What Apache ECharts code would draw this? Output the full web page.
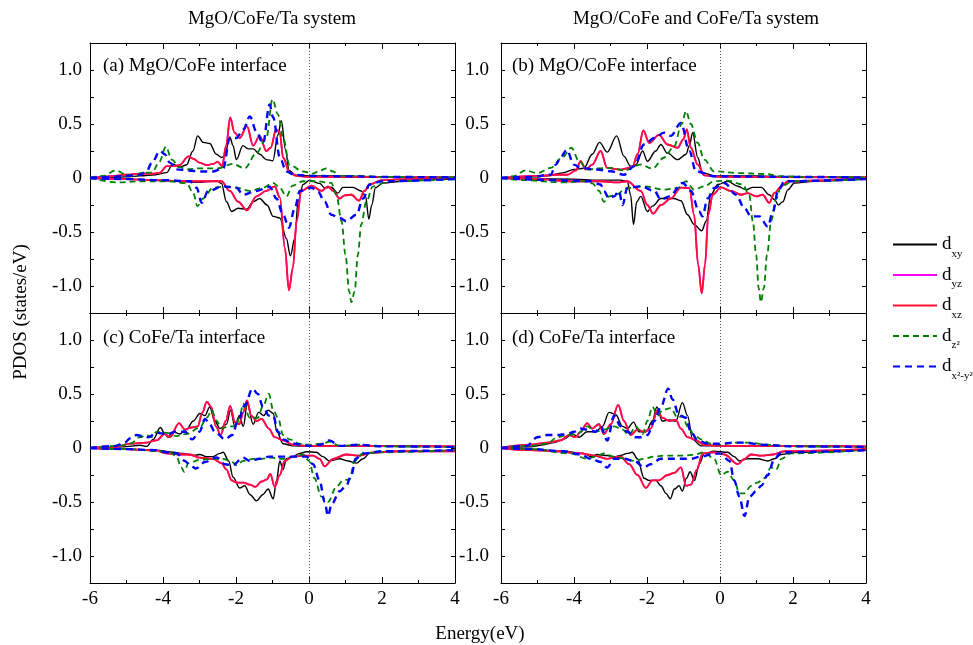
<!DOCTYPE html>
<html>
<head>
<meta charset="utf-8">
<script src="https://cdn.jsdelivr.net/npm/echarts@6/dist/echarts.min.js"></script>
<style>
html,body{margin:0;padding:0;background:#fff;}
#chart{width:973px;height:645px;}
</style>
</head>
<body>
<div id="chart"></div>
<script>
// ---------- DATA: [energy (eV), PDOS (states/eV)] ----------
// Panel (a): MgO/CoFe interface, MgO/CoFe/Ta system
const A_xy_up = [[-6,0],[-5.5,0.005],[-5,0.01],[-4.63,0.02],[-4.2,0.03],[-3.9,0.05],[-3.73,0.13],[-3.55,0.1],[-3.36,0.12],[-3.18,0.25],[-3.05,0.39],[-2.9,0.33],[-2.72,0.32],[-2.54,0.22],[-2.4,0.19],[-2.31,0.2],[-2.17,0.38],[-2.08,0.3],[-1.99,0.17],[-1.81,0.3],[-1.67,0.27],[-1.53,0.27],[-1.35,0.22],[-1.17,0.17],[-0.99,0.16],[-0.85,0.4],[-0.76,0.53],[-0.64,0.26],[-0.55,0.07],[-0.35,0.025],[0,0.02],[1,0.02],[2,0.01],[4,0.005]];
const A_xy_dn = [[-6,0],[-5,-0.01],[-4,-0.02],[-3.5,-0.03],[-3,-0.04],[-2.7,-0.03],[-2.53,-0.025],[-2.4,-0.05],[-2.26,-0.22],[-2.12,-0.31],[-1.94,-0.28],[-1.71,-0.29],[-1.53,-0.22],[-1.35,-0.19],[-1.15,-0.25],[-0.98,-0.355],[-0.8,-0.37],[-0.62,-0.56],[-0.51,-0.72],[-0.39,-0.56],[-0.3,-0.22],[-0.16,-0.06],[0.02,-0.02],[0.29,-0.05],[0.43,-0.09],[0.61,-0.085],[0.79,-0.14],[0.93,-0.087],[1.2,-0.087],[1.43,-0.12],[1.55,-0.17],[1.64,-0.38],[1.72,-0.25],[1.82,-0.09],[2.03,-0.046],[2.57,-0.03],[3.2,-0.015],[4,-0.01]];
const A_xz_up = [[-6,0],[-5.5,0.015],[-5,0.03],[-4.63,0.04],[-4.27,0.04],[-4.08,0.05],[-3.9,0.11],[-3.73,0.11],[-3.55,0.12],[-3.3,0.2],[-3.18,0.18],[-2.99,0.14],[-2.8,0.12],[-2.63,0.13],[-2.5,0.15],[-2.38,0.11],[-2.27,0.3],[-2.16,0.56],[-2.04,0.42],[-1.9,0.37],[-1.7,0.48],[-1.53,0.3],[-1.35,0.39],[-1.17,0.25],[-1.05,0.28],[-0.9,0.45],[-0.8,0.42],[-0.71,0.19],[-0.53,0.05],[-0.35,0.02],[0,0.01],[4,0.005]];
const A_xz_dn = [[-6,0],[-5,-0.01],[-4.3,-0.02],[-3.5,-0.03],[-2.99,-0.03],[-2.4,-0.03],[-2.17,-0.12],[-1.94,-0.22],[-1.7,-0.3],[-1.44,-0.17],[-1.17,-0.12],[-0.94,-0.077],[-0.8,-0.18],[-0.66,-0.65],[-0.55,-1.04],[-0.44,-0.83],[-0.34,-0.4],[-0.21,-0.12],[0.07,-0.07],[0.34,-0.12],[0.52,-0.077],[0.66,-0.12],[0.84,-0.19],[0.98,-0.16],[1.16,-0.155],[1.37,-0.21],[1.52,-0.12],[1.66,-0.06],[2,-0.02],[3,-0.005],[4,0]];
const A_z2_up = [[-6,0],[-5.64,0.02],[-5.3,0.07],[-5,0.03],[-4.75,0.01],[-4.59,0.05],[-4.3,0.05],[-4.1,0.15],[-3.92,0.29],[-3.76,0.17],[-3.55,0.1],[-3.35,0.08],[-2.99,0.09],[-2.5,0.09],[-2.09,0.13],[-1.76,0.09],[-1.44,0.23],[-1.17,0.37],[-1.0,0.73],[-0.85,0.59],[-0.71,0.37],[-0.53,0.12],[-0.16,0.06],[0.11,0.04],[0.3,0.07],[0.48,0.09],[0.66,0.06],[0.84,0.02],[1.3,0.02],[2,0.01],[4,0.005]];
const A_z2_dn = [[-6,0],[-5.27,-0.04],[-4.54,-0.03],[-3.81,-0.03],[-3.35,-0.05],[-3.17,-0.14],[-3.06,-0.26],[-2.9,-0.19],[-2.63,-0.09],[-2.3,-0.08],[-1.99,-0.09],[-1.62,-0.12],[-1.26,-0.09],[-0.98,-0.046],[-0.8,-0.09],[-0.62,-0.17],[-0.45,-0.07],[-0.16,-0.03],[0.2,-0.03],[0.61,-0.046],[0.75,-0.155],[0.89,-0.4],[1.0,-0.71],[1.1,-1.05],[1.16,-1.15],[1.25,-1.05],[1.34,-0.71],[1.43,-0.43],[1.57,-0.22],[1.75,-0.077],[2.2,-0.03],[4,-0.01]];
const A_x2_up = [[-6,0],[-5.5,0.01],[-5,0.02],[-4.63,0.03],[-4.45,0.06],[-4.31,0.14],[-4.08,0.25],[-3.95,0.22],[-3.81,0.14],[-3.63,0.08],[-3.3,0.07],[-2.99,0.06],[-2.63,0.06],[-2.35,0.09],[-2.17,0.37],[-1.99,0.37],[-1.8,0.45],[-1.62,0.57],[-1.44,0.43],[-1.26,0.32],[-1.08,0.68],[-0.98,0.56],[-0.8,0.19],[-0.62,0.06],[-0.4,0.03],[0,0.02],[1,0.015],[2,0.01],[4,0.005]];
const A_x2_dn = [[-6,0],[-5,-0.01],[-4,-0.02],[-3.26,-0.03],[-3.08,-0.09],[-2.94,-0.23],[-2.76,-0.12],[-2.35,-0.077],[-1.99,-0.09],[-1.81,-0.155],[-1.44,-0.12],[-1.08,-0.08],[-0.89,-0.19],[-0.71,-0.34],[-0.55,-0.46],[-0.39,-0.28],[-0.25,-0.12],[0.07,-0.09],[0.25,-0.13],[0.43,-0.22],[0.61,-0.34],[0.84,-0.37],[1.02,-0.4],[1.3,-0.34],[1.48,-0.19],[1.66,-0.06],[2,-0.03],[4,-0.01]];

// Panel (b): MgO/CoFe interface, MgO/CoFe and CoFe/Ta system
const B_xy_up = [[-6,0],[-5,0.01],[-4.73,0.02],[-4.28,0.05],[-4.0,0.08],[-3.73,0.09],[-3.5,0.22],[-3.3,0.33],[-3.09,0.24],[-2.83,0.39],[-2.63,0.2],[-2.45,0.11],[-2.31,0.12],[-2.12,0.25],[-1.99,0.155],[-1.76,0.25],[-1.62,0.31],[-1.44,0.23],[-1.16,0.17],[-0.93,0.22],[-0.84,0.3],[-0.75,0.42],[-0.61,0.19],[-0.48,0.05],[-0.16,0.02],[1,0.02],[2,0.01],[4,0.005]];
const B_xy_dn = [[-6,0],[-4,-0.01],[-3.36,-0.02],[-2.72,-0.02],[-2.54,-0.03],[-2.45,-0.155],[-2.37,-0.43],[-2.28,-0.22],[-2.17,-0.17],[-1.99,-0.31],[-1.85,-0.26],[-1.62,-0.19],[-1.26,-0.19],[-1.07,-0.21],[-0.89,-0.34],[-0.71,-0.43],[-0.5,-0.49],[-0.38,-0.4],[-0.25,-0.155],[-0.06,-0.06],[0.21,-0.03],[0.49,-0.077],[0.71,-0.108],[0.9,-0.087],[1.13,-0.087],[1.35,-0.155],[1.49,-0.2],[1.6,-0.25],[1.72,-0.22],[1.86,-0.108],[2.04,-0.046],[2.6,-0.03],[4,-0.01]];
const B_xz_up = [[-6,0],[-5,0.02],[-4.5,0.03],[-4.18,0.03],[-3.95,0.07],[-3.82,0.155],[-3.68,0.08],[-3.5,0.124],[-3.27,0.25],[-3.09,0.093],[-2.72,0.078],[-2.4,0.1],[-2.26,0.22],[-2.1,0.44],[-1.94,0.325],[-1.67,0.4],[-1.44,0.31],[-1.16,0.28],[-1.0,0.36],[-0.91,0.45],[-0.8,0.28],[-0.61,0.124],[-0.43,0.025],[0,0.01],[4,0.005]];
const B_xz_dn = [[-6,0],[-5,-0.01],[-4.18,-0.03],[-3.27,-0.03],[-2.81,-0.04],[-2.54,-0.03],[-2.17,-0.12],[-1.99,-0.25],[-1.83,-0.33],[-1.62,-0.25],[-1.35,-0.19],[-1.07,-0.09],[-0.84,-0.093],[-0.71,-0.34],[-0.6,-0.8],[-0.5,-1.07],[-0.41,-0.8],[-0.32,-0.34],[-0.2,-0.155],[0.03,-0.087],[0.3,-0.12],[0.58,-0.155],[0.76,-0.14],[0.99,-0.17],[1.17,-0.155],[1.35,-0.23],[1.49,-0.14],[1.68,-0.077],[1.86,-0.03],[4,0]];
const B_z2_up = [[-6,0],[-5.65,0.016],[-5.33,0.07],[-5.0,0.046],[-4.64,0.093],[-4.32,0.19],[-4.07,0.28],[-3.86,0.155],[-3.63,0.078],[-3.3,0.09],[-2.99,0.093],[-2.63,0.07],[-2.17,0.124],[-1.85,0.087],[-1.53,0.19],[-1.26,0.29],[-1.05,0.5],[-0.93,0.62],[-0.8,0.5],[-0.61,0.325],[-0.43,0.17],[-0.16,0.062],[0.49,0.046],[1.22,0.037],[1.68,0.016],[2.5,0.01],[4,0.005]];
const B_z2_dn = [[-6,0],[-5.4,-0.02],[-4.3,-0.04],[-3.73,-0.03],[-3.5,-0.05],[-3.31,-0.12],[-3.18,-0.22],[-3.04,-0.17],[-2.86,-0.155],[-2.54,-0.093],[-2.08,-0.077],[-1.53,-0.108],[-1.16,-0.093],[-0.93,-0.03],[-0.71,-0.108],[-0.43,-0.077],[-0.16,-0.03],[0.21,-0.025],[0.62,-0.06],[0.8,-0.155],[0.9,-0.4],[0.99,-0.71],[1.06,-1.02],[1.12,-1.15],[1.2,-1.02],[1.29,-0.71],[1.4,-0.4],[1.54,-0.19],[1.68,-0.077],[2,-0.03],[4,-0.01]];
const B_x2_up = [[-6,0],[-5.2,0.01],[-4.64,0.03],[-4.5,0.124],[-4.35,0.2],[-4.2,0.26],[-4.0,0.124],[-3.82,0.093],[-3.36,0.078],[-2.99,0.062],[-2.63,0.03],[-2.35,0.11],[-2.08,0.31],[-1.8,0.37],[-1.53,0.42],[-1.35,0.39],[-1.07,0.51],[-0.84,0.25],[-0.66,0.062],[-0.16,0.016],[2,0.01],[4,0.005]];
const B_x2_dn = [[-6,0],[-4.5,-0.02],[-3.55,-0.03],[-3.27,-0.06],[-3.18,-0.12],[-3.04,-0.19],[-2.9,-0.17],[-2.77,-0.12],[-2.67,-0.25],[-2.54,-0.093],[-2.17,-0.077],[-1.8,-0.12],[-1.62,-0.2],[-1.39,-0.17],[-1.02,-0.046],[-0.8,-0.12],[-0.57,-0.31],[-0.48,-0.355],[-0.34,-0.19],[-0.16,-0.093],[0.12,-0.046],[0.44,-0.155],[0.67,-0.28],[0.85,-0.355],[1.08,-0.355],[1.31,-0.45],[1.45,-0.31],[1.59,-0.12],[1.77,-0.03],[4,-0.01]];

// Panel (c): CoFe/Ta interface, MgO/CoFe/Ta system
const C_xy_up = [[-6,0],[-5.1,0.01],[-4.63,0.025],[-4.45,0.015],[-4.27,0.08],[-4.07,0.19],[-3.95,0.13],[-3.86,0.1],[-3.72,0.15],[-3.54,0.13],[-3.36,0.17],[-3.17,0.25],[-2.99,0.32],[-2.85,0.3],[-2.72,0.38],[-2.58,0.25],[-2.44,0.18],[-2.26,0.22],[-2.15,0.35],[-2.03,0.2],[-1.91,0.3],[-1.8,0.2],[-1.69,0.41],[-1.53,0.22],[-1.38,0.33],[-1.24,0.3],[-1.12,0.35],[-0.98,0.32],[-0.88,0.15],[-0.71,0.04],[-0.44,0.02],[0,0.015],[2,0.015],[4,0.01]];
const C_xy_dn = [[-6,0],[-5,-0.01],[-4.18,-0.02],[-3.72,-0.04],[-3.45,-0.05],[-3.17,-0.07],[-2.99,-0.06],[-2.81,-0.08],[-2.63,-0.08],[-2.44,-0.05],[-2.35,-0.04],[-2.2,-0.12],[-2.08,-0.27],[-1.9,-0.37],[-1.76,-0.35],[-1.62,-0.43],[-1.44,-0.49],[-1.26,-0.43],[-1.12,-0.38],[-0.98,-0.47],[-0.89,-0.3],[-0.8,-0.12],[-0.71,-0.2],[-0.62,-0.1],[-0.44,-0.08],[-0.26,-0.05],[-0.07,-0.035],[0.2,-0.04],[0.38,-0.08],[0.56,-0.12],[0.84,-0.1],[1.07,-0.12],[1.3,-0.14],[1.48,-0.1],[1.66,-0.05],[2.21,-0.03],[4,-0.02]];
const C_xz_up = [[-6,0],[-5.3,0.01],[-4.9,0.04],[-4.45,0.05],[-4.18,0.07],[-3.95,0.13],[-3.81,0.1],[-3.56,0.23],[-3.4,0.17],[-3.22,0.19],[-3.05,0.2],[-2.92,0.33],[-2.8,0.43],[-2.68,0.38],[-2.55,0.2],[-2.42,0.12],[-2.28,0.25],[-2.16,0.39],[-2.03,0.24],[-1.91,0.22],[-1.8,0.33],[-1.7,0.44],[-1.58,0.3],[-1.44,0.25],[-1.3,0.27],[-1.1,0.18],[-0.94,0.1],[-0.71,0.07],[-0.44,0.03],[0,0.02],[2,0.02],[4,0.015]];
const C_xz_dn = [[-6,0],[-5,-0.01],[-4.18,-0.025],[-3.9,-0.05],[-3.54,-0.06],[-3.26,-0.06],[-2.99,-0.09],[-2.63,-0.1],[-2.4,-0.14],[-2.26,-0.2],[-2.12,-0.3],[-1.99,-0.32],[-1.8,-0.32],[-1.62,-0.34],[-1.47,-0.36],[-1.3,-0.31],[-1.15,-0.29],[-1.06,-0.24],[-0.94,-0.36],[-0.8,-0.25],[-0.67,-0.12],[-0.44,-0.08],[-0.16,-0.07],[0.11,-0.07],[0.29,-0.1],[0.43,-0.17],[0.66,-0.1],[1.02,-0.06],[1.39,-0.07],[1.75,-0.04],[2.5,-0.03],[4,-0.03]];
const C_z2_up = [[-6,0],[-5.2,0.02],[-4.9,0.04],[-4.63,0.1],[-4.45,0.12],[-4.31,0.1],[-4.18,0.15],[-3.9,0.14],[-3.63,0.11],[-3.35,0.13],[-2.99,0.19],[-2.8,0.28],[-2.67,0.35],[-2.53,0.25],[-2.4,0.18],[-2.2,0.2],[-1.99,0.2],[-1.9,0.3],[-1.8,0.41],[-1.62,0.28],[-1.4,0.28],[-1.26,0.39],[-1.1,0.5],[-0.98,0.35],[-0.85,0.28],[-0.71,0.12],[-0.53,0.08],[-0.26,0.04],[0,0.03],[0.38,0.04],[0.56,0.06],[0.84,0.02],[1.39,0.03],[2,0.015],[4,0.01]];
const C_z2_dn = [[-6,0],[-5,-0.01],[-4.08,-0.03],[-3.81,-0.04],[-3.63,-0.08],[-3.5,-0.18],[-3.42,-0.22],[-3.3,-0.14],[-3.0,-0.11],[-2.67,-0.1],[-2.35,-0.1],[-2.1,-0.13],[-1.99,-0.16],[-1.8,-0.12],[-1.53,-0.1],[-1.3,-0.1],[-1.03,-0.09],[-0.71,-0.1],[-0.44,-0.08],[-0.16,-0.06],[0,-0.12],[0.15,-0.28],[0.34,-0.45],[0.52,-0.5],[0.75,-0.36],[0.93,-0.3],[1.11,-0.29],[1.25,-0.12],[1.48,-0.05],[1.93,-0.04],[4,-0.02]];
const C_x2_up = [[-6,0],[-5.3,0.02],[-5.05,0.05],[-4.9,0.09],[-4.72,0.12],[-4.54,0.11],[-4.4,0.1],[-4.18,0.14],[-3.9,0.13],[-3.63,0.15],[-3.4,0.15],[-3.2,0.08],[-3.0,0.15],[-2.85,0.27],[-2.72,0.22],[-2.58,0.15],[-2.3,0.08],[-2.1,0.12],[-1.95,0.25],[-1.75,0.4],[-1.55,0.55],[-1.4,0.5],[-1.26,0.38],[-1.1,0.3],[-0.98,0.3],[-0.85,0.15],[-0.71,0.08],[-0.44,0.04],[0,0.02],[0.3,0.03],[0.56,0.07],[0.84,0.02],[1.39,0.03],[2,0.015],[4,0.01]];
const C_x2_dn = [[-6,0],[-5,-0.01],[-4.2,-0.02],[-3.9,-0.04],[-3.63,-0.05],[-3.4,-0.12],[-3.26,-0.16],[-3.1,-0.19],[-2.85,-0.13],[-2.53,-0.087],[-2.3,-0.15],[-2.1,-0.16],[-1.8,-0.09],[-1.62,-0.12],[-1.35,-0.1],[-1.1,-0.08],[-0.8,-0.08],[-0.4,-0.08],[-0.07,-0.08],[0.11,-0.15],[0.29,-0.3],[0.43,-0.5],[0.52,-0.63],[0.62,-0.52],[0.84,-0.4],[1.02,-0.35],[1.16,-0.25],[1.28,-0.1],[1.48,-0.05],[2.02,-0.03],[4,-0.02]];

// Panel (d): CoFe/Ta interface, MgO/CoFe and CoFe/Ta system
const D_xy_up = [[-6,0],[-5.19,0.01],[-4.83,0.03],[-4.55,0.05],[-4.29,0.08],[-4.05,0.13],[-3.86,0.1],[-3.64,0.15],[-3.41,0.15],[-3.22,0.2],[-3.04,0.33],[-2.86,0.31],[-2.67,0.2],[-2.54,0.18],[-2.37,0.24],[-2.22,0.15],[-2.03,0.15],[-1.85,0.25],[-1.73,0.38],[-1.58,0.25],[-1.39,0.26],[-1.21,0.25],[-1.03,0.42],[-0.89,0.3],[-0.75,0.08],[-0.52,0.02],[0,0.02],[2,0.015],[4,0.01]];
const D_xy_dn = [[-6,0],[-5.19,-0.01],[-4.28,-0.03],[-3.73,-0.05],[-3.54,-0.08],[-3.36,-0.06],[-3.09,-0.07],[-2.9,-0.08],[-2.72,-0.07],[-2.54,-0.05],[-2.4,-0.04],[-2.26,-0.1],[-2.08,-0.28],[-1.94,-0.3],[-1.76,-0.3],[-1.62,-0.35],[-1.48,-0.42],[-1.36,-0.47],[-1.25,-0.38],[-1.12,-0.35],[-1.03,-0.4],[-0.92,-0.28],[-0.82,-0.22],[-0.7,-0.3],[-0.57,-0.15],[-0.43,-0.05],[-0.16,-0.03],[0.21,-0.04],[0.39,-0.08],[0.53,-0.12],[0.76,-0.1],[1.03,-0.1],[1.31,-0.12],[1.49,-0.1],[1.68,-0.06],[2.13,-0.04],[4,-0.02]];
const D_xz_up = [[-6,0],[-5.19,0.03],[-4.73,0.05],[-4.37,0.07],[-4.14,0.12],[-3.96,0.1],[-3.82,0.15],[-3.64,0.23],[-3.5,0.18],[-3.32,0.22],[-3.18,0.13],[-2.99,0.22],[-2.79,0.4],[-2.63,0.25],[-2.45,0.12],[-2.26,0.17],[-2.08,0.15],[-1.9,0.18],[-1.71,0.35],[-1.58,0.28],[-1.39,0.25],[-1.21,0.26],[-1.07,0.18],[-0.89,0.1],[-0.7,0.08],[-0.43,0.03],[0,0.02],[2,0.02],[4,0.015]];
const D_xz_dn = [[-6,0],[-5.2,-0.02],[-4.5,-0.03],[-3.82,-0.05],[-3.45,-0.07],[-3.09,-0.1],[-2.72,-0.08],[-2.49,-0.15],[-2.26,-0.25],[-2.03,-0.37],[-1.85,-0.3],[-1.67,-0.3],[-1.44,-0.25],[-1.25,-0.23],[-1.07,-0.18],[-0.93,-0.35],[-0.8,-0.34],[-0.63,-0.2],[-0.48,-0.05],[-0.16,-0.04],[0.12,-0.06],[0.49,-0.15],[0.67,-0.1],[0.85,-0.06],[1.13,-0.07],[1.45,-0.06],[1.77,-0.03],[4,-0.01]];
const D_z2_up = [[-6,0],[-5.2,0.02],[-4.73,0.04],[-4.46,0.1],[-4.18,0.12],[-3.91,0.13],[-3.64,0.2],[-3.41,0.15],[-3.18,0.17],[-2.9,0.2],[-2.67,0.17],[-2.49,0.12],[-2.31,0.2],[-2.12,0.13],[-1.99,0.25],[-1.85,0.38],[-1.71,0.3],[-1.58,0.35],[-1.35,0.37],[-1.16,0.28],[-1.03,0.3],[-0.89,0.2],[-0.7,0.12],[-0.52,0.08],[-0.25,0.04],[0,0.03],[0.39,0.05],[0.76,0.05],[1.31,0.03],[2,0.015],[4,0.01]];
const D_z2_dn = [[-6,0],[-5.2,-0.01],[-4.1,-0.05],[-3.64,-0.1],[-3.41,-0.08],[-3.18,-0.05],[-2.9,-0.08],[-2.63,-0.1],[-2.35,-0.12],[-2.08,-0.1],[-1.8,-0.08],[-1.53,-0.07],[-1.25,-0.07],[-0.98,-0.07],[-0.7,-0.06],[-0.43,-0.04],[-0.16,-0.1],[0.03,-0.25],[0.21,-0.22],[0.39,-0.3],[0.53,-0.42],[0.67,-0.42],[0.85,-0.35],[1.03,-0.32],[1.22,-0.28],[1.4,-0.18],[1.54,-0.2],[1.68,-0.1],[1.95,-0.05],[4,-0.02]];
const D_x2_up = [[-6,0],[-5.3,0.02],[-5.0,0.1],[-4.73,0.12],[-4.46,0.12],[-4.18,0.13],[-4.0,0.15],[-3.82,0.18],[-3.64,0.17],[-3.41,0.15],[-3.27,0.2],[-3.09,0.07],[-2.9,0.3],[-2.72,0.2],[-2.54,0.15],[-2.31,0.1],[-2.17,0.1],[-1.99,0.12],[-1.8,0.25],[-1.62,0.38],[-1.42,0.55],[-1.3,0.45],[-1.12,0.3],[-0.93,0.28],[-0.8,0.15],[-0.61,0.07],[-0.34,0.04],[0,0.04],[0.39,0.05],[0.67,0.05],[1.13,0.03],[2,0.015],[4,0.01]];
const D_x2_dn = [[-6,0],[-5.2,-0.01],[-4.28,-0.03],[-3.82,-0.06],[-3.54,-0.1],[-3.27,-0.13],[-3.09,-0.18],[-2.9,-0.1],[-2.63,-0.1],[-2.35,-0.12],[-2.08,-0.18],[-1.9,-0.15],[-1.62,-0.1],[-1.35,-0.1],[-1.07,-0.1],[-0.8,-0.1],[-0.52,-0.08],[-0.25,-0.06],[0,-0.05],[0.26,-0.12],[0.39,-0.3],[0.53,-0.45],[0.67,-0.63],[0.81,-0.45],[0.99,-0.4],[1.13,-0.35],[1.31,-0.25],[1.49,-0.1],[1.68,-0.04],[4,-0.02]];

const xTicks = [-6, -4, -2, 0, 2, 4];
const yTickLabels = ['1.0', '0.5', '0', '-0.5', '-1.0'];
const systemTitles = ['MgO/CoFe/Ta system', 'MgO/CoFe and CoFe/Ta system'];
const panelLabels = ['(a) MgO/CoFe interface', '(b) MgO/CoFe interface', '(c) CoFe/Ta interface', '(d) CoFe/Ta interface'];
const legendNames = ['dxy', 'dyz', 'dxz', 'dz2', 'dx2y2'];

// ---------- BUILD ----------
const panels = [
  {xy: [A_xy_up, A_xy_dn], xz: [A_xz_up, A_xz_dn], z2: [A_z2_up, A_z2_dn], x2: [A_x2_up, A_x2_dn]},
  {xy: [B_xy_up, B_xy_dn], xz: [B_xz_up, B_xz_dn], z2: [B_z2_up, B_z2_dn], x2: [B_x2_up, B_x2_dn]},
  {xy: [C_xy_up, C_xy_dn], xz: [C_xz_up, C_xz_dn], z2: [C_z2_up, C_z2_dn], x2: [C_x2_up, C_x2_dn]},
  {xy: [D_xy_up, D_xy_dn], xz: [D_xz_up, D_xz_dn], z2: [D_z2_up, D_z2_dn], x2: [D_x2_up, D_x2_dn]}
];
const orbitals = [
  {name: 'dxy',   key: 'xy', color: '#000000', width: 1.4, type: 'solid'},
  {name: 'dyz',   key: 'xz', color: '#ff00ff', width: 1.8, type: 'solid'},
  {name: 'dxz',   key: 'xz', color: '#ff1030', width: 1.8, type: 'solid'},
  {name: 'dz2',   key: 'z2', color: '#008000', width: 1.8, type: [6, 4]},
  {name: 'dx2y2', key: 'x2', color: '#0000ff', width: 2.4, type: [7, 5]}
];
const grids = [
  {left: 90,  top: 43,  width: 365, height: 270},
  {left: 501, top: 43,  width: 365, height: 270},
  {left: 90,  top: 313, width: 365, height: 270},
  {left: 501, top: 313, width: 365, height: 270}
];
const FONT = 'Liberation Serif';
const black = '#000';

const xAxis = [], yAxis = [], series = [];
grids.forEach((g, i) => {
  const bottomRow = i >= 2;
  const common = {
    gridIndex: i, type: 'value', min: -6, max: 4, interval: 2,
    axisLine: {show: true, onZero: false, lineStyle: {color: black, width: 1}},
    axisTick: {show: true, inside: true, length: 6, lineStyle: {color: black, width: 1}},
    minorTick: {show: true, splitNumber: 2, length: 3, lineStyle: {color: black, width: 1}},
    splitLine: {show: false}, minorSplitLine: {show: false}
  };
  xAxis.push(Object.assign({}, common, {
    position: 'bottom',
    axisLabel: {show: bottomRow, color: black, fontFamily: FONT, fontSize: 19, margin: 7,
      formatter: v => (xTicks.indexOf(Math.round(v)) >= 0 ? String(Math.round(v)) : '')}
  }));
  xAxis.push(Object.assign({}, common, {position: 'top', axisLabel: {show: false}}));
  const ycommon = {
    gridIndex: i, type: 'value', min: -1.25, max: 1.25, interval: 0.25,
    axisLine: {show: true, onZero: false, lineStyle: {color: black, width: 1}},
    axisTick: {show: true, inside: true, length: 4, lineStyle: {color: black, width: 1}},
    splitLine: {show: false}
  };
  yAxis.push(Object.assign({}, ycommon, {
    position: 'left',
    axisLabel: {show: true, color: black, fontFamily: FONT, fontSize: 19, margin: (i % 2 === 0) ? 8 : 12,
      formatter: v => {
        const r = Math.round(v * 100) / 100;
        const k = Math.round(r * 2);
        if (Math.abs(r * 2 - k) > 1e-6) return '';
        const idx = 2 - k;
        return (idx >= 0 && idx < yTickLabels.length) ? yTickLabels[idx] : '';
      }}
  }));
  yAxis.push(Object.assign({}, ycommon, {position: 'right', axisLabel: {show: false}}));

  const p = panels[i];
  let first = true;
  orbitals.forEach(o => {
    p[o.key].forEach(arr => {
      const s = {
        name: o.name, type: 'line', xAxisIndex: 2 * i, yAxisIndex: 2 * i,
        data: arr, symbol: 'none', smooth: 0.35, smoothMonotone: 'x',
        lineStyle: {color: o.color, width: o.width, type: o.type},
        itemStyle: {color: o.color}, z: 3, silent: true
      };
      if (first) {
        s.markLine = {
          silent: true, symbol: 'none', label: {show: false},
          lineStyle: {color: '#555', type: [1, 2], width: 1},
          data: [{xAxis: 0}]
        };
        first = false;
      }
      series.push(s);
    });
  });
});

const legendFmt = {
  dxy: '{d|d}{s|xy}',
  dyz: '{d|d}{s|yz}',
  dxz: '{d|d}{s|xz}',
  dz2: '{d|d}{s|z\u00B2}',
  dx2y2: '{d|d}{s|x\u00B2-y\u00B2}'
};

const textStyle = {font: '19px "Liberation Serif"', fill: black};
const graphic = [
  {type: 'text', x: 272, y: 19, style: Object.assign({text: systemTitles[0], align: 'center', verticalAlign: 'middle', textAlign: 'center', textVerticalAlign: 'middle'}, textStyle)},
  {type: 'text', x: 696, y: 19, style: Object.assign({text: systemTitles[1], align: 'center', verticalAlign: 'middle', textAlign: 'center', textVerticalAlign: 'middle'}, textStyle)},
  {type: 'text', x: 103, y: 66, style: Object.assign({text: panelLabels[0], align: 'left', verticalAlign: 'middle', textVerticalAlign: 'middle'}, textStyle)},
  {type: 'text', x: 512, y: 66, style: Object.assign({text: panelLabels[1], align: 'left', verticalAlign: 'middle', textVerticalAlign: 'middle'}, textStyle)},
  {type: 'text', x: 103, y: 338, style: Object.assign({text: panelLabels[2], align: 'left', verticalAlign: 'middle', textVerticalAlign: 'middle'}, textStyle)},
  {type: 'text', x: 512, y: 338, style: Object.assign({text: panelLabels[3], align: 'left', verticalAlign: 'middle', textVerticalAlign: 'middle'}, textStyle)},
  {type: 'text', x: 480, y: 634, style: Object.assign({text: 'Energy(eV)', align: 'center', verticalAlign: 'middle', textAlign: 'center', textVerticalAlign: 'middle'}, textStyle)},
  {type: 'text', x: 21, y: 312, rotation: Math.PI / 2, style: Object.assign({text: 'PDOS (states/eV)', align: 'center', verticalAlign: 'middle', textAlign: 'center', textVerticalAlign: 'middle'}, textStyle)}
];

const chart = echarts.init(document.getElementById('chart'), null, {renderer: 'canvas'});
chart.setOption({
  animation: false,
  backgroundColor: '#fff',
  grid: grids.map(g => Object.assign({show: false, containLabel: false}, g)),
  xAxis, yAxis, series, graphic,
  legend: {
    data: legendNames, orient: 'vertical', left: 892, top: 235, padding: 0,
    itemWidth: 44, itemHeight: 2, itemGap: 6, selectedMode: false,
    itemStyle: {opacity: 0, borderWidth: 0},
    formatter: n => legendFmt[n],
    textStyle: {
      color: black,
      rich: {
        d: {fontFamily: FONT, fontSize: 19, lineHeight: 30, verticalAlign: 'middle', color: black},
        s: {fontFamily: FONT, fontSize: 11, lineHeight: 11, verticalAlign: 'bottom', color: black}
      }
    }
  }
});
</script>
</body>
</html>
